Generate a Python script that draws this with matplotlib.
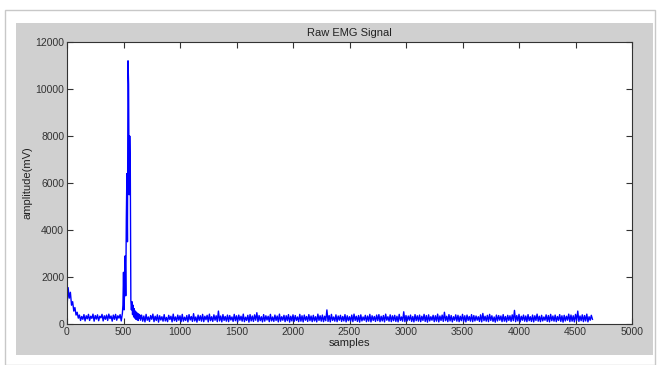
import numpy as np
import matplotlib
matplotlib.use("Agg")
import matplotlib.pyplot as plt
from matplotlib.patches import Rectangle

# ---- data ----
start_samples = np.arange(0, 500, 10)
start_amp = [700, 1550, 1100, 1350, 800, 950, 550, 700, 380, 500,
             250, 380, 150, 320, 200, 400, 130, 350, 220, 410,
             150, 330, 240, 420, 120, 360, 210, 390, 140, 330,
             260, 410, 130, 350, 200, 380, 150, 420, 230, 340,
             120, 380, 200, 410, 160, 350, 250, 400, 130, 450]

burst_samples = np.arange(495, 655, 5)
burst_amp = [800, 2200, 600, 1500, 2900, 1200, 4500, 6400, 3500, 11200,
             10200, 5500, 8000, 6800, 1000, 600, 950, 400, 800, 300,
             650, 250, 550, 200, 500, 180, 450, 150, 420, 250, 380, 160]

tail_samples = np.arange(660, 4660, 10)
tail_amp = [
    380,120,340,90,410,160,300,110,360,200,420,100,330,150,390,80,350,170,310,120,
    400,130,280,100,370,190,330,90,420,140,300,110,380,160,350,100,410,120,290,150,
    360,90,400,170,320,110,440,130,300,80,380,150,350,120,410,100,330,180,370,90,
    420,140,310,110,390,160,350,100,550,130,340,90,400,150,320,120,380,100,360,170,
    300,110,410,140,350,90,380,160,330,120,420,100,290,150,370,80,400,130,340,110,
    390,160,480,100,360,140,310,90,400,120,350,170,330,100,410,130,300,110,380,150,
    340,90,420,120,310,160,370,100,350,140,400,80,330,130,390,110,360,150,300,100,
    410,120,350,90,380,160,320,110,400,140,340,100,370,130,310,90,420,150,350,120,
    380,100,330,140,600,110,360,90,410,150,300,120,390,100,340,160,370,110,320,130,
    400,90,350,140,310,120,380,100,420,150,330,110,360,80,390,130,300,160,370,100,
    340,120,410,90,350,150,320,110,380,140,400,100,330,130,360,90,420,160,310,120,
    390,100,350,140,370,110,330,90,410,150,300,120,520,100,360,130,340,160,380,110,
    320,90,400,140,350,120,380,100,330,150,410,110,360,80,390,130,310,160,370,100,
    350,120,420,90,340,150,380,110,500,140,330,100,400,130,360,90,310,160,390,120,
    370,100,330,140,410,110,350,90,380,150,320,120,400,100,360,130,340,160,310,110,
    390,90,450,140,330,120,370,100,410,150,350,110,300,80,380,130,360,160,340,100,
    400,120,320,90,370,150,350,110,390,140,580,100,360,130,410,90,330,160,380,120,
    340,100,400,140,310,110,380,90,350,150,420,120,330,100,370,130,300,160,390,110,
    360,90,410,140,340,120,380,100,320,150,400,110,350,80,370,130,330,160,420,100,
    380,120,350,90,410,150,550,110,340,140,390,100,360,130,420,90,310,160,370,200,
]

x_ticks = list(range(0, 5001, 500))
y_ticks = list(range(0, 12001, 2000))

samples = np.concatenate([start_samples, burst_samples, tail_samples])
amplitude = np.concatenate([start_amp, burst_amp, tail_amp])

# ---- figure ----
W, H = 659, 365
plt.rcParams["font.family"] = ["Liberation Sans", "DejaVu Sans"]
fig = plt.figure(figsize=(W / 100, H / 100), dpi=100, facecolor="white")

# outer window frame and grey panel
fig.patches.append(Rectangle((5 / W, 0), 650 / W, 355 / H, transform=fig.transFigure,
                             facecolor="white", edgecolor="#c8c8c8", lw=1.0, zorder=-20))
fig.patches.append(Rectangle((16 / W, 10 / H), 637 / W, 332 / H, transform=fig.transFigure,
                             facecolor="#d0d0d0", edgecolor="none", zorder=-10))

ax = fig.add_axes([67 / W, 41 / H, 565 / W, 282 / H])
ax.set_zorder(5)
ax.set_facecolor("white")
ax.plot(samples, amplitude, color="#0000ff", lw=1.0)

ax.set_xlim(0, 5000)
ax.set_ylim(0, 12000)
ax.set_xticks(x_ticks)
ax.set_yticks(y_ticks)
ax.tick_params(direction="in", top=True, right=True, length=4, width=0.8,
               labelsize=7.5, colors="#333333", pad=2)
for s in ax.spines.values():
    s.set_color("#333333")
    s.set_linewidth(0.8)

ax.set_title("Raw EMG Signal", fontsize=8, color="#222222", pad=4)
ax.set_xlabel("samples", fontsize=8, color="#222222", labelpad=1)
ax.set_ylabel("amplitude(mV)", fontsize=8, color="#222222", labelpad=2)

fig.savefig("out.png", dpi=100, facecolor="white")
